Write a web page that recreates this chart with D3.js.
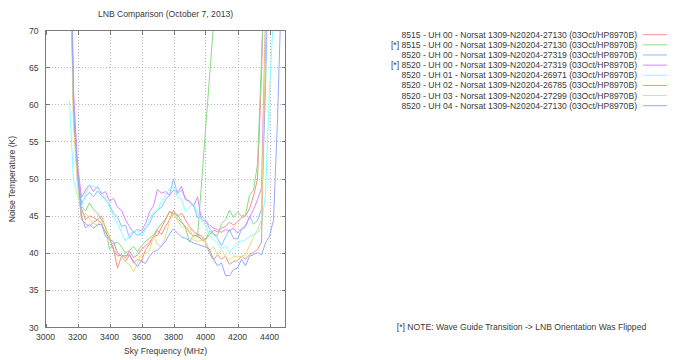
<!DOCTYPE html>
<html><head><meta charset="utf-8">
<script src="https://cdn.jsdelivr.net/npm/d3@7"></script>
<style>
html,body{margin:0;padding:0;background:#fff;}
svg{display:block;font-family:"Liberation Sans",Arial,sans-serif;}
</style></head>
<body><svg id="c" width="678" height="360"></svg>
<script>
const title = "LNB Comparison (October 7, 2013)";
const xLabel = "Sky Frequency (MHz)";
const yLabel = "Noise Temperature (K)";
const xTicks = [3000,3200,3400,3600,3800,4000,4200,4400];
const yTicks = [30,35,40,45,50,55,60,65,70];
const note = "[*] NOTE: Wave Guide Transition -> LNB Orientation Was Flipped";

const freqs = [3150,3175,3200,3225,3250,3275,3300,3325,3350,3375,3400,3425,3450,3475,3500,3525,3550,3575,3600,3625,3650,3675,3700,3725,3750,3775,3800,3825,3850,3875,3900,3925,3950,3975,4000,4025,4050,4075,4100,4125,4150,4175,4200,4225,4250,4275,4300,4325,4350,4375,4400,4425,4450,4475,4500];

const names = [
 "8515 - UH 00 - Norsat 1309-N20204-27130 (03Oct/HP8970B)",
 "[*] 8515 - UH 00 - Norsat 1309-N20204-27130 (03Oct/HP8970B)",
 "8520 - UH 00 - Norsat 1309-N20204-27319 (03Oct/HP8970B)",
 "[*] 8520 - UH 00 - Norsat 1309-N20204-27319 (03Oct/HP8970B)",
 "8520 - UH 01 - Norsat 1309-N20204-26971 (03Oct/HP8970B)",
 "8520 - UH 02 - Norsat 1309-N20204-26785 (03Oct/HP8970B)",
 "8520 - UH 03 - Norsat 1309-N20204-27299 (03Oct/HP8970B)",
 "8520 - UH 04 - Norsat 1309-N20204-27130 (03Oct/HP8970B)"
];
const colors = ["#ff8a8a","#86dc86","#86c0ff","#dc86ff","#86ffff","#e8987a","#e0e07a","#94a8ff"];

const red = [90,60,51,46,44.5,45,44.8,44.5,45,43.4,42.3,40.5,39.6,39.8,39.4,40.3,39.4,39.8,40.5,41,41.5,42.2,43.1,42.5,43.6,44.5,45.8,44.9,45.4,44.5,43.6,42.9,42.6,42.3,41.8,42.5,43.1,42.9,43.4,43.6,44.2,43.8,44.2,44.8,45,46,47.7,50,64,85,110,130,150,170,190];
const green = [85,60,51,46.3,45.7,46.8,45.9,45.4,44.5,43.5,40.5,41.3,41.5,40.9,40,40.4,40.9,40.2,41,41.6,42,42.5,43.3,44,44.6,45.6,45.4,45.2,44.3,43.4,41.5,42.5,42.2,42,41.8,43,42.5,42.4,44,44.5,45.8,44.8,45.6,45,45.2,47.8,48.5,52,66,82,100,120,140,160,180];
const greenBreakAfter = 3950;
const greenGlitch = {f: 4500, t: 200};
const blue = [92,60,51,46.7,47.6,48.2,47.6,48.4,47.8,47.2,46.5,45.4,44.9,43.6,43.8,42,42.9,42.4,42.7,43.4,44,45.2,45.8,46.2,47.2,47.8,50,48,48.5,47.4,47,46.5,44.8,45,44.5,43.3,42.7,42,41,42.2,43.2,42,41.9,43.2,43.5,45,43.9,44.4,46,62,85,110,130,150,170];
const magenta = [95,62,52,47.5,48.5,49.2,48.3,49,48,48.3,47,47.4,46.2,45.8,44.5,43.6,42.8,43.2,43,44,45.6,46.4,48.6,48.1,48.3,47.8,48.5,48.2,49,47.2,47,46.3,47.6,44.5,44.3,43.8,43.4,43.2,42.8,43.2,43,43.4,42.7,43.3,43.8,44.8,45.9,47.2,48.8,72,100,120,140,160,180];
const cyan = [60.5,49.8,47.8,46.3,48,49.2,49,48.7,48.3,47.4,46.2,45,44,42.8,41.6,42.5,43,43.1,42.3,43.2,44.6,45.5,45.8,47,47.8,48.7,48.9,47.6,47.3,45.6,46.2,46.7,45.5,44.5,43.8,42.4,41.8,41.3,40.6,41,40.1,40.8,41.4,41.6,41.8,42.3,42.5,42.8,43.7,48,62,72,90,110,130];
const sienna = [88,58,50,44.5,44,43.6,44.2,44.5,44,42.8,42,40.5,38,39.6,38.9,39.8,38.7,39.2,38.9,40.5,41.2,42.3,42.4,43.5,44.5,45.6,45.2,44.6,44.2,43.6,42.8,42.3,42.5,41.8,41.6,40,39.1,39.8,39.2,39.6,38.5,38.9,39,39.6,39.2,39.8,40.1,40.5,41.5,68,100,120,140,160,180];
const yellow = [86,57,49.5,44.7,45.4,44.6,44,43.8,44.4,43.5,42.2,40.9,40.2,39.6,38.8,38.5,37.5,38.7,39.8,40,40.4,42.3,41.2,40.9,42.2,44.3,45.4,44.4,43.6,43.4,43.6,41.8,41.6,41.7,41.6,40.4,40.9,39.8,40.4,39.6,39.1,39.6,39.5,39.6,39.8,41,42.2,43.2,44.5,70,100,120,140,160,180];
const lavender = [90,60,51,45,43.4,43.9,43.4,43.8,43.9,42.3,41.8,41.6,40,39.6,39.7,39.8,38.9,38.2,39,38.6,39.6,40.2,40.4,41,41.6,42.6,43.3,42.7,42.2,42,41.7,41.4,41.2,41,40.9,40.5,39.2,38.3,38.7,37,37,37.8,38,39.2,38.3,39.6,39.8,40.1,39.8,41.4,42.3,44.5,58,76,95];

const seriesValues = [red, green, blue, magenta, cyan, sienna, yellow, lavender];

const svg = d3.select("#c");
const L = 45.5, R = 285.5, T = 30.5, B = 327.5;
const x = d3.scaleLinear().domain([3000, 4500]).range([L, R]);
const y = d3.scaleLinear().domain([30, 70]).range([B, T]);
const textColor = "#3a3a3a";
const fontSize = 8.6;

// grid
const g = svg.append("g");
g.selectAll(".gx").data(xTicks.filter(v => v > 3000)).enter().append("line")
  .attr("x1", d => Math.round(x(d)) + 0.5).attr("x2", d => Math.round(x(d)) + 0.5)
  .attr("y1", T).attr("y2", B)
  .attr("stroke", "#b8b8b8").attr("stroke-dasharray", "1,2").attr("shape-rendering", "crispEdges");
g.selectAll(".gy").data(yTicks.filter(v => v > 30 && v < 70)).enter().append("line")
  .attr("y1", d => Math.round(y(d) - 0.5) + 0.5).attr("y2", d => Math.round(y(d) - 0.5) + 0.5)
  .attr("x1", L).attr("x2", R)
  .attr("stroke", "#b8b8b8").attr("stroke-dasharray", "1,2").attr("shape-rendering", "crispEdges");

// clip
svg.append("clipPath").attr("id", "clip").append("rect")
  .attr("x", L).attr("y", T).attr("width", R - L).attr("height", B - T);

const line = d3.line().x(d => x(d.f)).y(d => y(d.t));
const lines = svg.append("g").attr("clip-path", "url(#clip)");
seriesValues.forEach((vals, i) => {
  const pts = freqs.map((f, k) => ({f, t: vals[k]}));
  let paths;
  if (vals === green) {
    const a = pts.filter(p => p.f <= greenBreakAfter).concat([greenGlitch]);
    const b = pts.filter(p => p.f >= greenBreakAfter);
    paths = [a, b];
  } else {
    paths = [pts];
  }
  paths.forEach(p => {
    lines.append("path").attr("d", line(p)).attr("fill", "none")
      .attr("stroke", colors[i]).attr("stroke-width", 1);
  });
});

// border
svg.append("rect").attr("x", L).attr("y", T).attr("width", R - L).attr("height", B - T)
  .attr("fill", "none").attr("stroke", "#7a7a7a").attr("shape-rendering", "crispEdges");

// ticks (inward, mirrored)
const tk = 4;
const tg = svg.append("g").attr("stroke", "#7a7a7a").attr("shape-rendering", "crispEdges");
xTicks.forEach(v => {
  const xx = Math.round(x(v)) + 0.5;
  tg.append("line").attr("x1", xx).attr("x2", xx).attr("y1", B).attr("y2", B - tk);
  tg.append("line").attr("x1", xx).attr("x2", xx).attr("y1", T).attr("y2", T + tk);
});
yTicks.forEach(v => {
  const yy = Math.round(y(v) - 0.5) + 0.5;
  tg.append("line").attr("y1", yy).attr("y2", yy).attr("x1", L).attr("x2", L + tk);
  tg.append("line").attr("y1", yy).attr("y2", yy).attr("x1", R).attr("x2", R - tk);
});

// tick labels
svg.append("g").selectAll("text").data(xTicks).enter().append("text")
  .attr("x", d => x(d)).attr("y", B + 12).attr("text-anchor", "middle")
  .attr("font-size", fontSize).attr("fill", textColor).text(d => d);
svg.append("g").selectAll("text").data(yTicks).enter().append("text")
  .attr("x", L - 7).attr("y", d => y(d) + 3).attr("text-anchor", "end")
  .attr("font-size", fontSize).attr("fill", textColor).text(d => d);

// titles
svg.append("text").attr("x", (L + R) / 2).attr("y", 17).attr("text-anchor", "middle")
  .attr("font-size", fontSize).attr("fill", textColor).text(title);
svg.append("text").attr("x", (L + R) / 2).attr("y", 354).attr("text-anchor", "middle")
  .attr("font-size", fontSize).attr("fill", textColor).text(xLabel);
svg.append("text").attr("transform", `translate(15,${(T + B) / 2}) rotate(-90)`)
  .attr("text-anchor", "middle").attr("font-size", fontSize).attr("fill", textColor).text(yLabel);

// legend
const lg = svg.append("g");
names.forEach((n, i) => {
  const yy = 34.7 + i * 10.14;
  lg.append("text").attr("x", 637).attr("y", yy + 3).attr("text-anchor", "end")
    .attr("font-size", fontSize).attr("fill", textColor).text(n);
  lg.append("line").attr("x1", 643).attr("x2", 667).attr("y1", yy).attr("y2", yy)
    .attr("stroke", colors[i]).attr("stroke-width", 1);
});

svg.append("text").attr("x", 521.5).attr("y", 330).attr("text-anchor", "middle")
  .attr("font-size", fontSize).attr("fill", textColor).text(note);
</script></body></html>
